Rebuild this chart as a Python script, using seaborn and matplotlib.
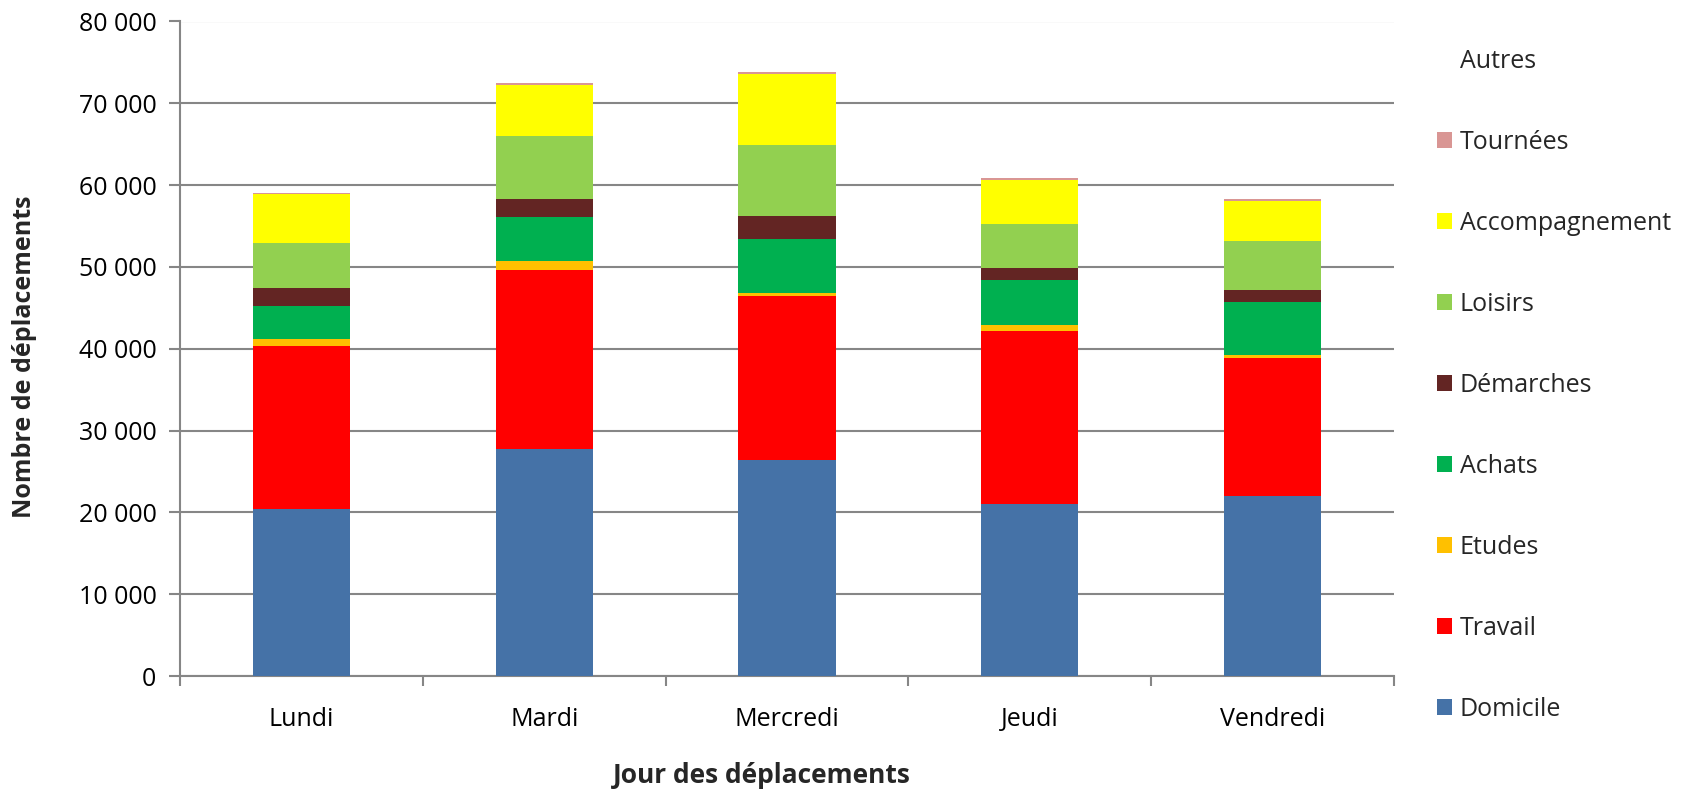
import matplotlib
matplotlib.use("Agg")
import matplotlib.pyplot as plt
from matplotlib.patches import Patch
from matplotlib.ticker import FuncFormatter, FixedLocator
import numpy as np
import pandas as pd
import seaborn as sns

# Trips per weekday, split by purpose (stacked from bottom to top)
jours = ["Lundi", "Mardi", "Mercredi", "Jeudi", "Vendredi"]
motifs = ["Domicile", "Travail", "Etudes", "Achats", "Démarches",
          "Loisirs", "Accompagnement", "Tournées", "Autres"]

domicile = [20400, 27710, 26360, 21020, 21960]
travail = [19940, 21880, 20090, 21150, 16950]
etudes = [820, 1140, 410, 700, 330]
achats = [4070, 5340, 6520, 5500, 6480]
demarches = [2240, 2240, 2850, 1540, 1500]
loisirs = [5500, 7700, 8720, 5380, 5950]
accompagnement = [5930, 6190, 8640, 5300, 4930]
tournees = [120, 320, 245, 290, 170]
autres = [30, 40, 30, 30, 30]

couleurs = ["#4572A7", "#FF0000", "#FFC000", "#00B050", "#632523",
            "#92D050", "#FFFF00", "#D99694", "#FFFFFF"]

series = [domicile, travail, etudes, achats, demarches,
          loisirs, accompagnement, tournees, autres]

sns.set_theme(style="white")
plt.rcParams["font.family"] = ["Open Sans", "DejaVu Sans"]

fig = plt.figure(figsize=(16.88, 7.94), dpi=100)
ax = fig.add_axes([180 / 1688, 1 - 676 / 794, (1394 - 180) / 1688, (676 - 21.5) / 794])

bas = np.zeros(len(jours))
for motif, valeurs, couleur in zip(motifs, series, couleurs):
    df = pd.DataFrame({"jour": jours, "n": valeurs})
    sns.barplot(data=df, x="jour", y="n", order=jours, color=couleur,
                width=0.4, bottom=bas.copy(), errorbar=None, ax=ax,
                edgecolor="none", linewidth=0, saturation=1, zorder=3)
    bas += np.array(valeurs)

grid_col = "#868686"
ax.set_ylim(0, 80000)
ax.set_xlim(-0.5, 4.5)
ax.set_yticks(np.arange(0, 80001, 10000))
ax.yaxis.set_major_formatter(FuncFormatter(lambda v, p: f"{int(v):,}".replace(",", " ")))
ax.grid(axis="y", color=grid_col, linewidth=1.5, zorder=0)
ax.grid(axis="x", visible=False)

for s in ["top", "right"]:
    ax.spines[s].set_visible(False)
for s in ["left", "bottom"]:
    ax.spines[s].set_color(grid_col)
    ax.spines[s].set_linewidth(1.5)

ax.tick_params(axis="y", which="major", left=True, length=8, width=1.5,
               color=grid_col, pad=9, labelsize=18, labelcolor="black")
ax.tick_params(axis="x", which="major", bottom=False, length=0, pad=22,
               labelsize=18, labelcolor="black")
ax.xaxis.set_minor_locator(FixedLocator(np.arange(-0.5, 5, 1)))
ax.tick_params(axis="x", which="minor", bottom=True, length=7, width=1.5,
               color=grid_col)

ax.set_ylabel("Nombre de déplacements", fontsize=18, fontweight="bold")
ax.yaxis.set_label_coords(-0.118, 0.488)
ax.set_xlabel("Jour des déplacements", fontsize=19, fontweight="bold")
ax.xaxis.set_label_coords(0.4796, -0.131)

handles = [Patch(facecolor=c, edgecolor="none") for c in couleurs]
fig.legend(handles[::-1], motifs[::-1], loc="upper left",
           bbox_to_anchor=(1437 / 1688, 1 - 49.2 / 794), frameon=False,
           fontsize=18, handlelength=0.6, handleheight=0.6,
           handletextpad=0.3, labelspacing=2.24, borderpad=0,
           borderaxespad=0)

fig.savefig("out.png", dpi=100)
